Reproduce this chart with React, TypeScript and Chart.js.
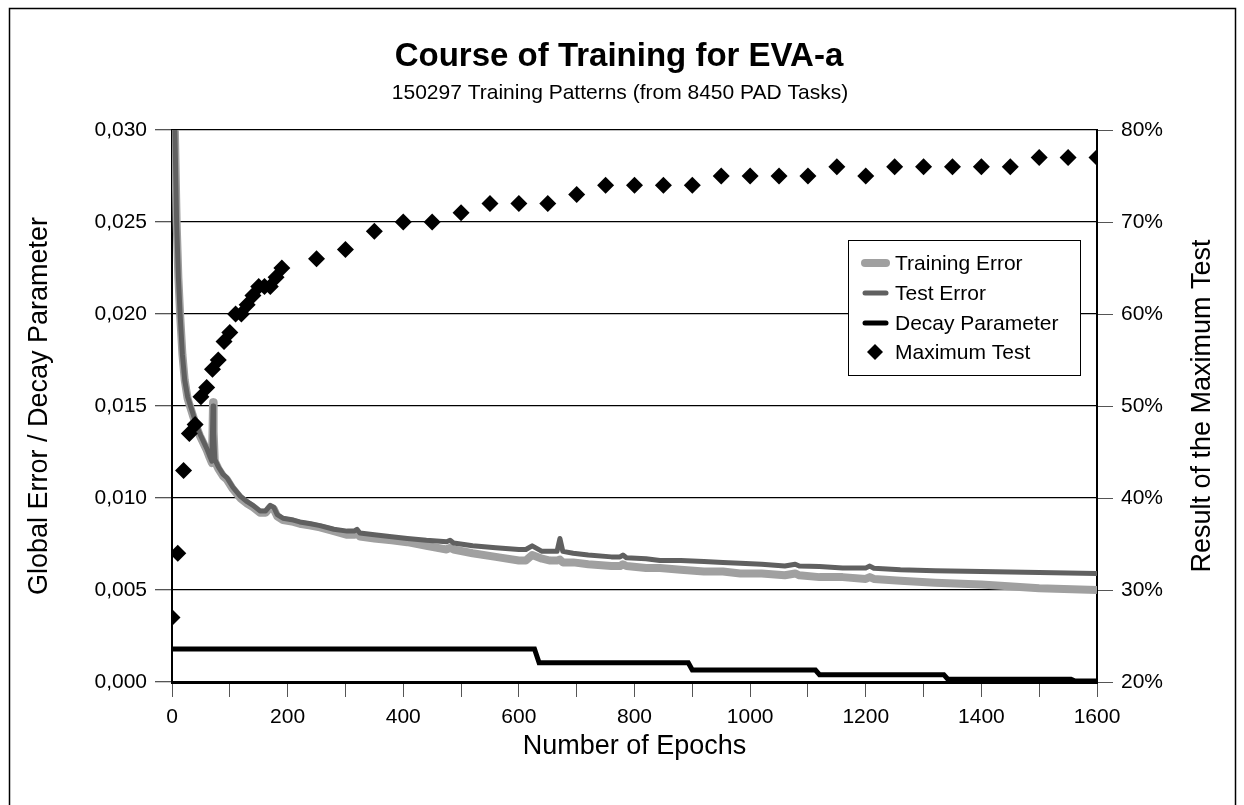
import React, { useEffect, useRef } from "react";
import { Chart, registerables } from "chart.js";

Chart.register(...registerables);

// ---------- data ----------
const errEpochs = [
  0, 3, 5, 8, 11, 14, 18, 22, 27, 32, 36, 42, 48, 54, 60, 65, 69, 70, 71, 72, 74, 80, 88, 95, 105,
  118, 130, 140, 152, 162, 170, 176, 182, 192, 210, 221, 240, 256, 280, 303, 315, 320, 325, 350,
  380, 407, 440, 475, 481, 487, 520, 560, 600, 612, 623, 640, 654, 666, 671, 676, 694, 720, 760,
  775, 780, 786, 820, 844, 880, 920, 953, 983, 1020, 1060, 1078, 1085, 1120, 1160, 1200, 1207,
  1214, 1260, 1320, 1400, 1500, 1600,
];
const testError = [
  0.06, 0.034, 0.03, 0.025, 0.022, 0.02, 0.0178, 0.0164, 0.0155, 0.015, 0.0146, 0.014, 0.0135,
  0.0131, 0.0127, 0.0123, 0.012, 0.0135, 0.015, 0.0135, 0.0121, 0.0117, 0.0113, 0.0111, 0.0106,
  0.0101, 0.0098, 0.0096, 0.0093, 0.0093, 0.0096, 0.0095, 0.0091, 0.0089, 0.0088, 0.0087, 0.0086,
  0.0085, 0.0083, 0.0082, 0.0082, 0.0083, 0.0081, 0.008, 0.0079, 0.0078, 0.0077, 0.00762, 0.0077,
  0.00755, 0.0074, 0.0073, 0.0072, 0.0072, 0.0074, 0.0071, 0.0071, 0.0071, 0.0078, 0.0071, 0.007,
  0.0069, 0.0068, 0.0068, 0.0069, 0.00675, 0.0067, 0.0066, 0.0066, 0.00655, 0.0065, 0.00645,
  0.0064, 0.0063, 0.0064, 0.0063, 0.00628, 0.0062, 0.0062, 0.0063, 0.00618, 0.0061, 0.00605, 0.006,
  0.00595, 0.0059,
];
const trainingError = [
  0.06, 0.034, 0.03, 0.025, 0.022, 0.02, 0.0178, 0.0164, 0.0154, 0.0149, 0.0145, 0.0139, 0.0134,
  0.013, 0.0126, 0.0122, 0.0119, 0.0135, 0.0152, 0.0136, 0.012, 0.0116, 0.0112, 0.011, 0.0105,
  0.01, 0.0097, 0.0095, 0.0092, 0.0092, 0.0095, 0.0094, 0.009, 0.0088, 0.0087, 0.0086, 0.0085,
  0.0084, 0.0082, 0.008, 0.008, 0.0081, 0.0079, 0.0078, 0.0077, 0.0076, 0.0074, 0.0072, 0.0073,
  0.0072, 0.007, 0.0068, 0.0066, 0.0066, 0.0069, 0.0067, 0.0066, 0.0066, 0.00665, 0.0065, 0.0065,
  0.0064, 0.0063, 0.0063, 0.0064, 0.0063, 0.0062, 0.0062, 0.0061, 0.006, 0.006, 0.0059, 0.0059,
  0.0058, 0.0059, 0.0058, 0.0057, 0.0057, 0.0056, 0.0057, 0.0056, 0.0055, 0.0054, 0.0053, 0.0051,
  0.005,
];
const decayEpochs = [0, 627, 635, 893, 900, 1113, 1120, 1335, 1342, 1555, 1562, 1600];
const decayParameter = [
  0.0018, 0.0018, 0.00105, 0.00105, 0.00065, 0.00065, 0.0004, 0.0004, 0.00015, 0.00015, 0.00005,
  0.00005,
];
const testEpochs = [
  0, 10, 20, 30, 40, 50, 60, 70, 80, 90, 100, 110, 120, 130, 140, 150, 160, 170, 180, 190, 250, 300,
  350, 400, 450, 500, 550, 600, 650, 700, 750, 800, 850, 900, 950, 1000, 1050, 1100, 1150, 1200,
  1250, 1300, 1350, 1400, 1450, 1500, 1550, 1600,
];
const maximumTest = [
  27, 34, 43, 47, 48, 51, 52, 54, 55, 57, 58, 60, 60, 61, 62, 63, 63, 63, 64, 65, 66, 67, 69, 70,
  70, 71, 72, 72, 72, 73, 74, 74, 74, 74, 75, 75, 75, 75, 76, 75, 76, 76, 76, 76, 76, 77, 77, 77,
];
const leftTicks = [0, 0.005, 0.01, 0.015, 0.02, 0.025, 0.03];
const rightTicks = [20, 30, 40, 50, 60, 70, 80];

const titleText = "Course of Training for EVA-a";
const subtitleText = "150297 Training Patterns (from 8450 PAD Tasks)";
const xTitle = "Number of Epochs";
const yTitle = "Global Error / Decay Parameter";
const y2Title = "Result of the Maximum Test";
const seriesNames = ["Training Error", "Test Error", "Decay Parameter", "Maximum Test"];

const FONT = "'Liberation Sans', Arial, Helvetica, sans-serif";

const decorPlugin = {
  id: "decor",
  beforeDraw(chart: any) {
    const ctx = chart.ctx;
    ctx.save();
    ctx.fillStyle = "#fff";
    ctx.fillRect(0, 0, chart.width, chart.height);
    ctx.restore();
  },
  afterDraw(chart: any) {
    const ctx = chart.ctx;
    const ca = chart.chartArea;
    ctx.save();
    // outer frame
    ctx.strokeStyle = "#000";
    ctx.lineWidth = 1.5;
    ctx.strokeRect(9.5, 8.5, 1226, 805);
    ctx.fillStyle = "#000";
    ctx.textAlign = "center";
    ctx.textBaseline = "middle";
    ctx.font = `bold 33px ${FONT}`;
    ctx.fillText(titleText, 619, 57);
    ctx.font = `21px ${FONT}`;
    ctx.fillText(subtitleText, 620, 93);
    ctx.font = `27px ${FONT}`;
    ctx.fillText(xTitle, (ca.left + ca.right) / 2, 747);
    ctx.save();
    ctx.translate(40, (ca.top + ca.bottom) / 2);
    ctx.rotate(-Math.PI / 2);
    ctx.fillText(yTitle, 0, 0);
    ctx.restore();
    ctx.save();
    ctx.translate(1203, (ca.top + ca.bottom) / 2);
    ctx.rotate(-Math.PI / 2);
    ctx.fillText(y2Title, 0, 0);
    ctx.restore();

    // legend
    const lx = 848, ly = 240, lw = 232, lh = 135;
    ctx.fillStyle = "#fff";
    ctx.fillRect(lx, ly, lw, lh);
    ctx.strokeStyle = "#000";
    ctx.lineWidth = 1;
    ctx.strokeRect(lx + 0.5, ly + 0.5, lw, lh);
    const rows = [263, 293, 323, 352];
    const ds = chart.data.datasets;
    ctx.font = `21px ${FONT}`;
    ctx.textAlign = "left";
    for (let i = 0; i < 4; i++) {
      const d = ds.find((q: any) => q.label === seriesNames[i]);
      const y = rows[i];
      if (i < 3) {
        ctx.strokeStyle = d.borderColor;
        ctx.lineWidth = d.borderWidth;
        ctx.lineCap = "round";
        ctx.beginPath();
        ctx.moveTo(865, y);
        ctx.lineTo(886, y);
        ctx.stroke();
      } else {
        ctx.fillStyle = d.backgroundColor;
        ctx.beginPath();
        ctx.moveTo(875, y - 8);
        ctx.lineTo(883, y);
        ctx.lineTo(875, y + 8);
        ctx.lineTo(867, y);
        ctx.closePath();
        ctx.fill();
      }
      ctx.fillStyle = "#000";
      ctx.fillText(seriesNames[i], 895, y + 1);
    }
    ctx.restore();
  },
};

export default function App() {
  const ref = useRef<HTMLCanvasElement>(null);
  useEffect(() => {
    if (!ref.current) return;
    Chart.defaults.font.family = FONT;
    Chart.defaults.color = "#000";
    const chart = new Chart(ref.current, {
      type: "line",
      data: {
        datasets: [
          {
            type: "scatter",
            label: seriesNames[3],
            data: testEpochs.map((x, i) => ({ x, y: maximumTest[i] })),
            yAxisID: "y2",
            pointStyle: "rectRot",
            pointRadius: 8.5,
            backgroundColor: "#000",
            borderColor: "#000",
            borderWidth: 0,
            showLine: false,
            clip: 0,
            order: 0,
          } as any,
          {
            label: seriesNames[2],
            data: decayEpochs.map((x, i) => ({ x, y: decayParameter[i] })),
            yAxisID: "y",
            borderColor: "#000",
            borderWidth: 5,
            pointRadius: 0,
            tension: 0,
            order: 1,
          },
          {
            label: seriesNames[1],
            data: errEpochs.map((x, i) => ({ x, y: testError[i] })),
            yAxisID: "y",
            borderColor: "#606060",
            borderWidth: 5,
            pointRadius: 0,
            tension: 0,
            borderJoinStyle: "round",
            clip: 0,
            order: 2,
          },
          {
            label: seriesNames[0],
            data: errEpochs.map((x, i) => ({ x, y: trainingError[i] })),
            yAxisID: "y",
            borderColor: "#a0a0a0",
            borderWidth: 8,
            pointRadius: 0,
            tension: 0,
            borderJoinStyle: "round",
            clip: 0,
            order: 3,
          },
        ],
      },
      options: {
        responsive: false,
        maintainAspectRatio: false,
        animation: false,
        devicePixelRatio: 1,
        layout: { padding: { top: 130, left: 0, right: 0, bottom: 0 } },
        plugins: { legend: { display: false }, tooltip: { enabled: false }, title: { display: false } },
        scales: {
          x: {
            type: "linear",
            min: 0,
            max: 1600,
            afterFit: (s: any) => {
              s.height = 123;
            },
            afterBuildTicks: (s: any) => {
              const t = [];
              for (let v = 0; v <= 1600; v += 100) t.push({ value: v });
              s.ticks = t;
            },
            ticks: {
              font: { size: 21 },
              color: "#000",
              padding: 8,
              maxRotation: 0,
              autoSkip: false,
              callback: (v: any) => (Number(v) % 200 === 0 ? String(v) : ""),
            },
            grid: { drawOnChartArea: false, drawTicks: true, tickLength: 15, color: "#555", lineWidth: 1 },
            border: { display: true, color: "#000", width: 3 },
          },
          y: {
            type: "linear",
            position: "left",
            min: 0,
            max: 0.03,
            afterFit: (s: any) => {
              s.width = 172;
            },
            afterBuildTicks: (s: any) => {
              s.ticks = leftTicks.map((v) => ({ value: v }));
            },
            ticks: {
              font: { size: 21 },
              color: "#000",
              padding: 8,
              callback: (v: any) => Number(v).toFixed(3).replace(".", ","),
            },
            grid: { color: "#000", lineWidth: 1.3, tickLength: 17, tickColor: "#555", drawTicks: true },
            border: { display: true, color: "#000", width: 2 },
          },
          y2: {
            type: "linear",
            position: "right",
            min: 20,
            max: 80,
            afterFit: (s: any) => {
              s.width = 147;
            },
            afterBuildTicks: (s: any) => {
              s.ticks = rightTicks.map((v) => ({ value: v }));
            },
            ticks: {
              font: { size: 21 },
              color: "#000",
              padding: 8,
              callback: (v: any) => `${v}%`,
            },
            grid: { drawOnChartArea: false, tickLength: 16, color: "#555", lineWidth: 1 },
            border: { display: true, color: "#000", width: 2 },
          },
        },
      },
      plugins: [decorPlugin],
    } as any);
    return () => chart.destroy();
  }, []);
  return (
    <div style={{ position: "absolute", left: 0, top: 0, width: 1244, height: 805, background: "#fff" }}>
      <canvas ref={ref} width={1244} height={805} style={{ display: "block", width: 1244, height: 805 }} />
    </div>
  );
}
